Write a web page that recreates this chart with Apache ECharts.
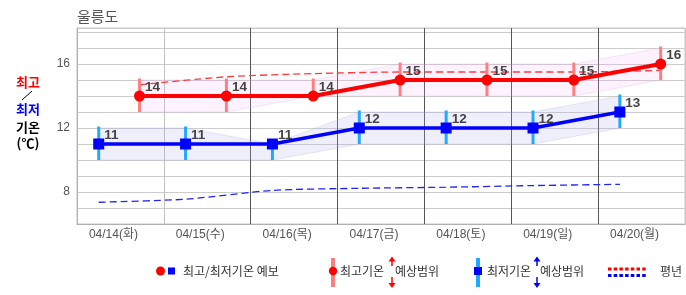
<!DOCTYPE html>
<html><head><meta charset="utf-8">
<script src="https://cdn.jsdelivr.net/npm/echarts@6/dist/echarts.min.js"></script>
<style>html,body{margin:0;padding:0;background:#fff}#c{width:686px;height:295px}</style>
</head><body><div id="c"></div>
<script>
// ---- data ----
const title = '울릉도';
const categories = ['04/14(화)','04/15(수)','04/16(목)','04/17(금)','04/18(토)','04/19(일)','04/20(월)'];
const maxTemp = [14, 14, 14, 15, 15, 15, 16];
const minTemp = [11, 11, 11, 12, 12, 12, 13];
const maxRangeLow = [13, 13, 14, 14, 14, 14, 15];
const maxRangeHigh = [15, 15, 15, 16, 16, 16, 17];
const minRangeLow = [10, 10, 10, 11, 11, 11, 12];
const minRangeHigh = [12, 12, 11, 13, 13, 13, 14];
const normalMax = [14.7, 15.2, 15.4, 15.5, 15.5, 15.5, 15.6];
const normalMin = [7.36, 7.55, 8.1, 8.23, 8.3, 8.4, 8.48];
const yTickLabels = [8, 12, 16];

// ---- layout helpers ----
const MAX_OFF = 0.72, MIN_OFF = 0.25;
const FONT = '"Liberation Sans", Arial, "Noto Sans CJK KR", sans-serif';
const KFONT = '"Noto Sans CJK KR", "Liberation Sans", sans-serif';
const maxX = categories.map((c, i) => i + MAX_OFF);
const minX = categories.map((c, i) => i + MIN_OFF);
const pts = (xs, ys) => xs.map((x, i) => [x, ys[i]]);

function bandSeries(xs, lo, hi, fill, stroke) {
  return {
    type: 'custom', xAxisIndex: 0, yAxisIndex: 0, silent: true, z: 1,
    data: pts(xs, lo),
    renderItem: function (params, api) {
      if (params.dataIndex !== 0) return null;
      const p = [];
      for (let i = 0; i < xs.length; i++) p.push(api.coord([xs[i], hi[i]]));
      for (let i = xs.length - 1; i >= 0; i--) p.push(api.coord([xs[i], lo[i]]));
      return { type: 'polygon', shape: { points: p }, style: { fill: fill, stroke: stroke, lineWidth: 1 } };
    }
  };
}
function barSeries(xs, lo, hi, color) {
  return {
    type: 'custom', xAxisIndex: 0, yAxisIndex: 0, silent: true, z: 3,
    data: xs.map((x, i) => [x, lo[i], hi[i]]),
    renderItem: function (params, api) {
      const a = api.coord([api.value(0), api.value(1)]);
      const b = api.coord([api.value(0), api.value(2)]);
      return { type: 'line', shape: { x1: a[0], y1: a[1], x2: b[0], y2: b[1] - 1.5 }, style: { stroke: color, lineWidth: 3 } };
    }
  };
}
const valLabel = {
  show: true, position: 'right', distance: 0, offset: [0, -9],
  fontFamily: FONT, fontWeight: 'bold', fontSize: 13.5, color: '#444'
};

const chart = echarts.init(document.getElementById('c'), null, { renderer: 'canvas' });
const vColors = ['#c8c8c8', '#c0c0c0', '#555', '#555', '#555', '#555', '#555', '#c8c8c8'];

chart.setOption({
  animation: false,
  backgroundColor: '#fff',
  grid: { left: 77, right: 1, top: 28, bottom: 71, show: true, borderColor: '#c4c4c4', borderWidth: 1 },
  xAxis: [
    {
      type: 'value', min: 0, max: categories.length, interval: 1, position: 'bottom',
      axisLine: { show: false }, axisTick: { show: false }, axisLabel: { show: false },
      splitLine: { show: true, lineStyle: { color: vColors, width: 1 } }
    },
    {
      type: 'category', data: categories, boundaryGap: true, position: 'bottom',
      axisLine: { show: true, lineStyle: { color: '#b0b0b0' } }, axisTick: { show: false },
      splitLine: { show: false },
      axisLabel: { color: '#555', fontSize: 12, fontFamily: FONT, margin: 5, padding: [0, 14, 0, 0], interval: 0 }
    }
  ],
  yAxis: {
    type: 'value', min: 6, max: 18.25, interval: 1,
    axisLine: { show: true, lineStyle: { color: '#b0b0b0' } }, axisTick: { show: false },
    splitLine: { show: true, lineStyle: { color: '#cccccc', width: 1 } },
    axisLabel: {
      color: '#555', fontSize: 12, fontFamily: FONT, margin: 7,
      formatter: v => (yTickLabels.indexOf(v) >= 0 ? String(v) : '')
    }
  },
  series: [
    bandSeries(maxX, maxRangeLow, maxRangeHigh, 'rgba(240,175,240,0.16)', 'rgba(225,175,225,0.3)'),
    bandSeries(minX, minRangeLow, minRangeHigh, 'rgba(175,175,238,0.2)', 'rgba(175,175,230,0.3)'),
    {
      type: 'line', xAxisIndex: 0, data: pts(maxX, normalMax), smooth: 0.25, symbol: 'none', z: 2, silent: true,
      lineStyle: { color: '#ff3b3b', width: 1.3, type: [7, 4] }
    },
    {
      type: 'line', xAxisIndex: 0, data: pts(minX, normalMin), smooth: 0.25, symbol: 'none', z: 2, silent: true,
      lineStyle: { color: '#2222ff', width: 1.3, type: [7, 4] }
    },
    barSeries(maxX, maxRangeLow, maxRangeHigh, '#ff7f7f'),
    barSeries(minX, minRangeLow, minRangeHigh, '#1eaaff'),
    {
      type: 'line', xAxisIndex: 0, data: pts(maxX, maxTemp), z: 4, silent: true,
      symbol: 'circle', symbolSize: 11, itemStyle: { color: '#ff0000' },
      lineStyle: { color: '#ff0000', width: 4 }, label: valLabel
    },
    {
      type: 'line', xAxisIndex: 0, data: pts(minX, minTemp), z: 4, silent: true,
      symbol: 'rect', symbolSize: 11, itemStyle: { color: '#0000ff' },
      lineStyle: { color: '#0000ff', width: 3.5 }, label: valLabel
    }
  ],
  graphic: [
    { type: 'text', x: 77, y: 16, style: { text: title, font: '15px ' + KFONT, fill: '#555', textAlign: 'left', textVerticalAlign: 'middle' } },
    { type: 'text', x: 28, y: 82, style: { text: '최고', font: 'bold 13px ' + KFONT, fill: '#ff0000', textAlign: 'center', textVerticalAlign: 'middle' } },
    { type: 'line', shape: { x1: 22, y1: 100, x2: 32, y2: 91 }, style: { stroke: '#000', lineWidth: 1 } },
    { type: 'text', x: 28, y: 109, style: { text: '최저', font: 'bold 13px ' + KFONT, fill: '#0000ff', textAlign: 'center', textVerticalAlign: 'middle' } },
    { type: 'text', x: 28, y: 127, style: { text: '기온', font: 'bold 13px ' + KFONT, fill: '#000', textAlign: 'center', textVerticalAlign: 'middle' } },
    { type: 'text', x: 28, y: 143, style: { text: '(℃)', font: 'bold 13px ' + KFONT, fill: '#000', textAlign: 'center', textVerticalAlign: 'middle' } },
    // legend 1
    { type: 'circle', shape: { cx: 160.5, cy: 271, r: 4.5 }, style: { fill: '#ff0000' } },
    { type: 'rect', shape: { x: 168, y: 267.5, width: 7, height: 7 }, style: { fill: '#0000ff' } },
    { type: 'text', x: 183, y: 271, style: { text: '최고/최저기온 예보', font: '12px ' + KFONT, fill: '#333', textAlign: 'left', textVerticalAlign: 'middle' } },
    // legend 2
    { type: 'rect', shape: { x: 331, y: 258, width: 4, height: 29 }, style: { fill: '#f78080' } },
    { type: 'circle', shape: { cx: 333, cy: 271, r: 4.2 }, style: { fill: '#ff0000' } },
    { type: 'text', x: 340, y: 271, style: { text: '최고기온', font: '12px ' + KFONT, fill: '#333', textAlign: 'left', textVerticalAlign: 'middle' } },
    { type: 'text', x: 395, y: 271, style: { text: '예상범위', font: '12px ' + KFONT, fill: '#333', textAlign: 'left', textVerticalAlign: 'middle' } },
    { type: 'line', shape: { x1: 392, y1: 266, x2: 392, y2: 260 }, style: { stroke: '#ff0000', lineWidth: 1.5 } },
    { type: 'polygon', shape: { points: [[388.5, 261.5], [395.5, 261.5], [392, 256.5]] }, style: { fill: '#ff0000' } },
    { type: 'line', shape: { x1: 392, y1: 277, x2: 392, y2: 284 }, style: { stroke: '#ff0000', lineWidth: 1.5 } },
    { type: 'polygon', shape: { points: [[388.5, 283], [395.5, 283], [392, 288]] }, style: { fill: '#ff0000' } },
    // legend 3
    { type: 'rect', shape: { x: 476, y: 258, width: 4, height: 29 }, style: { fill: '#1eaaff' } },
    { type: 'rect', shape: { x: 474, y: 267, width: 8, height: 8 }, style: { fill: '#0000ff' } },
    { type: 'text', x: 487, y: 271, style: { text: '최저기온', font: '12px ' + KFONT, fill: '#333', textAlign: 'left', textVerticalAlign: 'middle' } },
    { type: 'text', x: 540, y: 271, style: { text: '예상범위', font: '12px ' + KFONT, fill: '#333', textAlign: 'left', textVerticalAlign: 'middle' } },
    { type: 'line', shape: { x1: 537, y1: 266, x2: 537, y2: 260 }, style: { stroke: '#0000ff', lineWidth: 1.5 } },
    { type: 'polygon', shape: { points: [[533.5, 261.5], [540.5, 261.5], [537, 256.5]] }, style: { fill: '#0000ff' } },
    { type: 'line', shape: { x1: 537, y1: 277, x2: 537, y2: 284 }, style: { stroke: '#0000ff', lineWidth: 1.5 } },
    { type: 'polygon', shape: { points: [[533.5, 283], [540.5, 283], [537, 288]] }, style: { fill: '#0000ff' } },
    // legend 4
    { type: 'line', shape: { x1: 608, y1: 269, x2: 647, y2: 269 }, style: { stroke: '#ff0000', lineWidth: 3, lineDash: [3.5, 2.2] } },
    { type: 'line', shape: { x1: 608, y1: 275.5, x2: 647, y2: 275.5 }, style: { stroke: '#0000ff', lineWidth: 3, lineDash: [3.5, 2.2] } },
    { type: 'text', x: 660, y: 271, style: { text: '평년', font: '12px ' + KFONT, fill: '#333', textAlign: 'left', textVerticalAlign: 'middle' } }
  ]
});
</script>
</body></html>
